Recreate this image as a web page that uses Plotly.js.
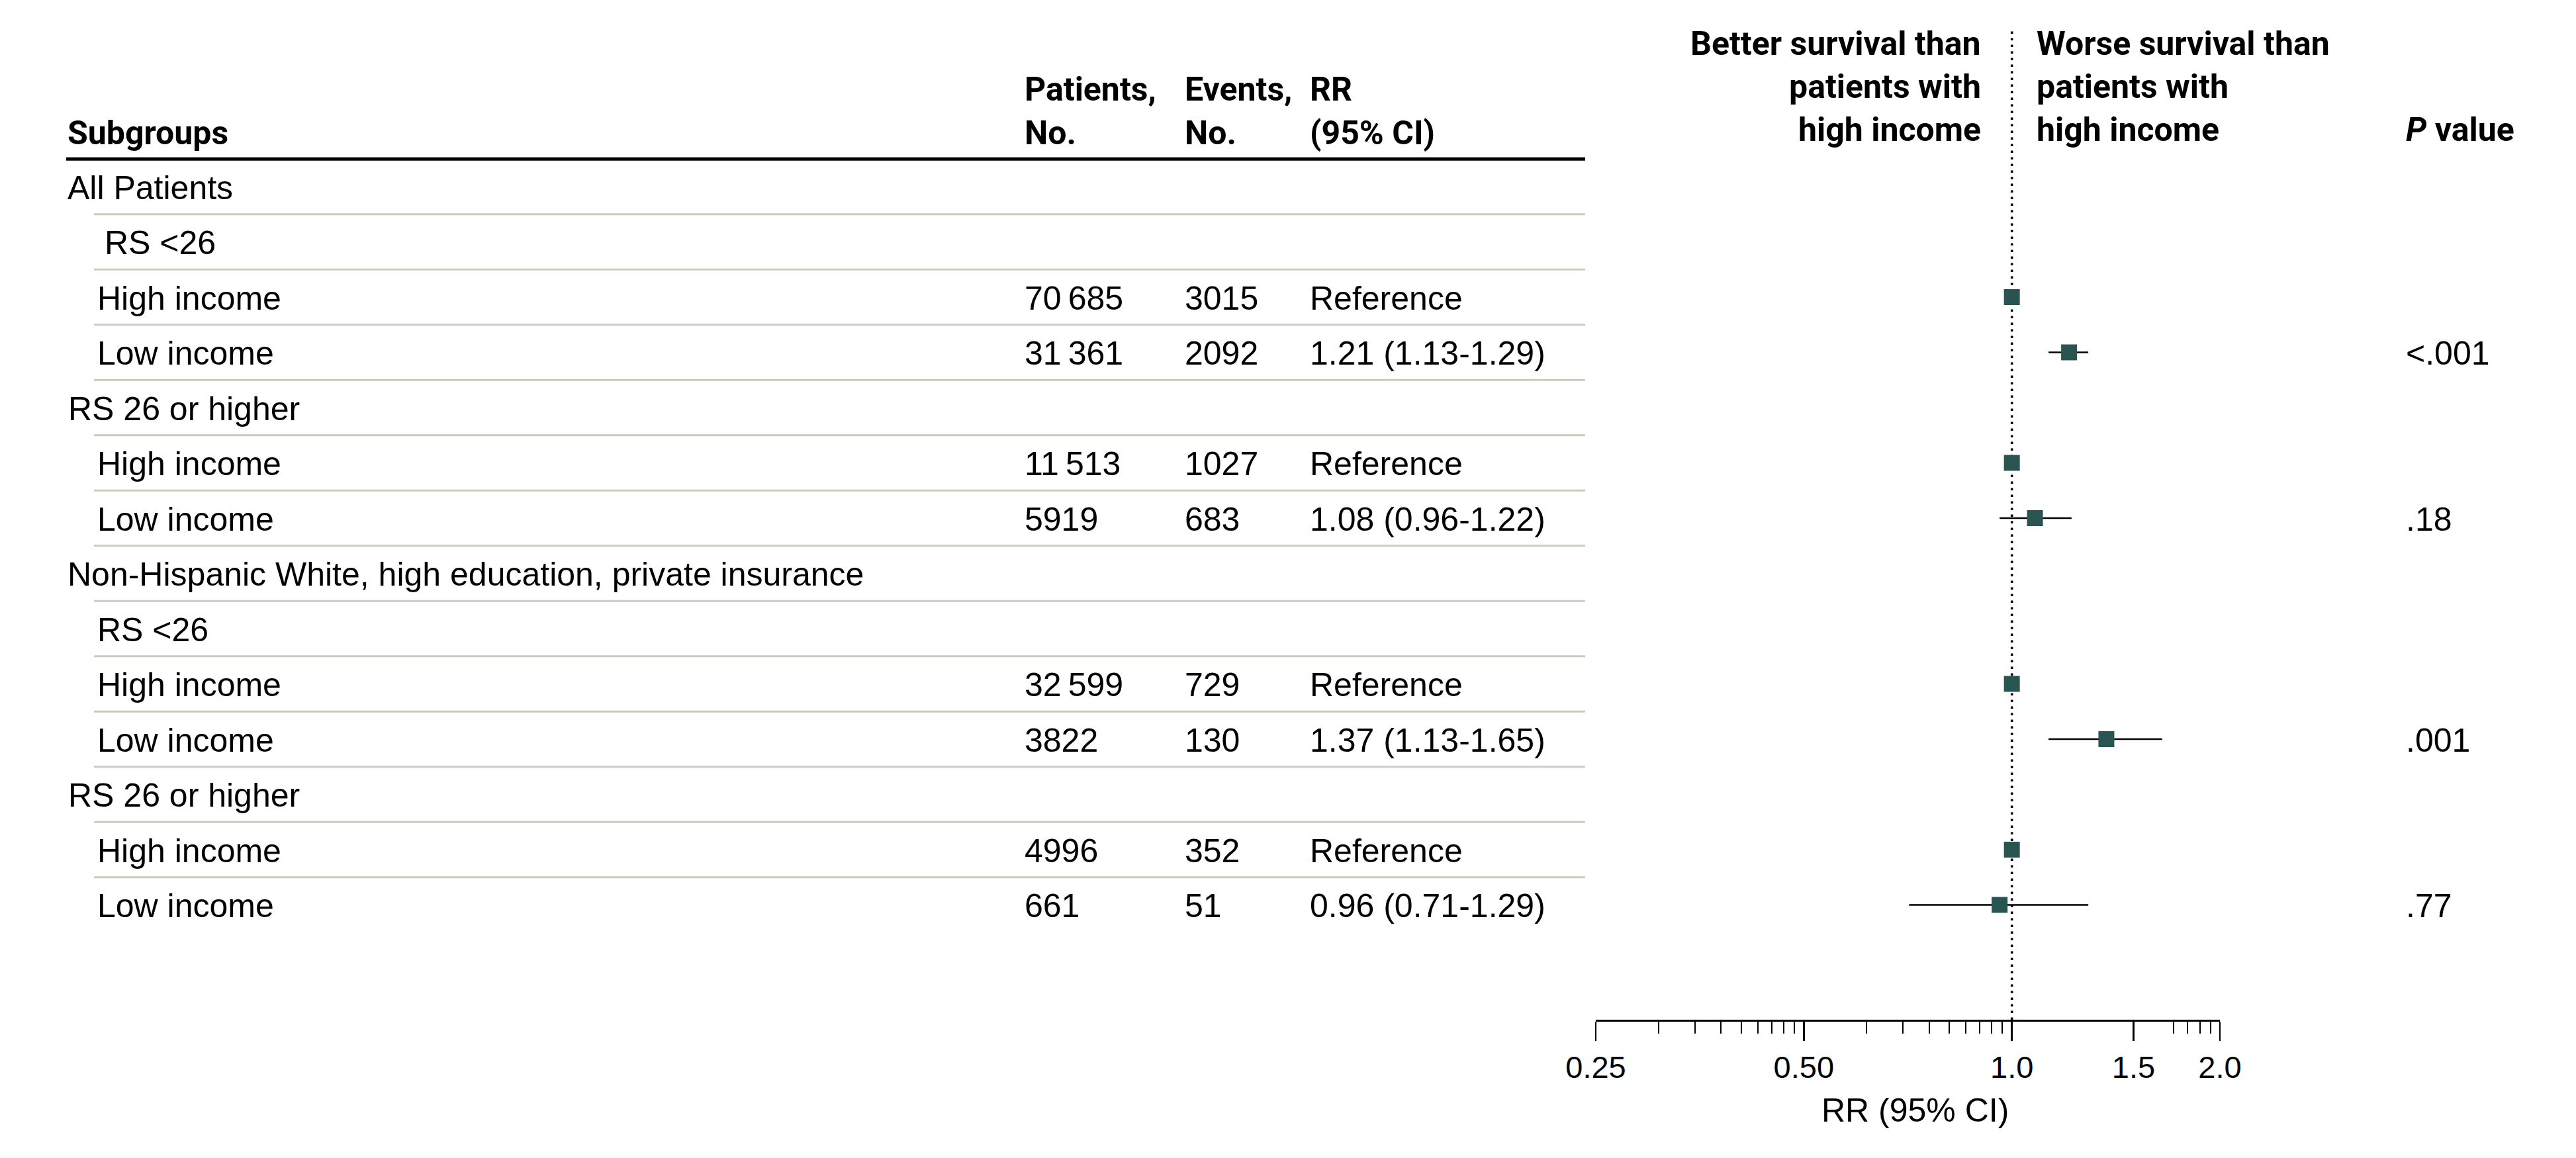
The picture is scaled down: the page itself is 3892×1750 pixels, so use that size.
<!DOCTYPE html>
<html>
<head>
<meta charset="utf-8">
<script src="https://cdn.plot.ly/plotly-3.0.1.min.js"></script>
<style>html,body{margin:0;padding:0;background:#fff}</style>
</head>
<body>
<div id="chart" style="width:3892px;height:1750px"></div>
<script>
// ---------------- DATA ----------------
const subgroups = [
  'All Patients', 'RS <26', 'High income', 'Low income',
  'RS 26 or higher', 'High income', 'Low income',
  'Non-Hispanic White, high education, private insurance',
  'RS <26', 'High income', 'Low income',
  'RS 26 or higher', 'High income', 'Low income'
];
const patients = [null, null, 70685, 31361, null, 11513, 5919, null, null, 32599, 3822, null, 4996, 661];
const events   = [null, null, 3015, 2092, null, 1027, 683, null, null, 729, 130, null, 352, 51];
const rrEst    = [null, null, 1, 1.21, null, 1, 1.08, null, null, 1, 1.37, null, 1, 0.96];
const rrLow    = [null, null, null, 1.13, null, null, 0.96, null, null, null, 1.13, null, null, 0.71];
const rrHigh   = [null, null, null, 1.29, null, null, 1.22, null, null, null, 1.65, null, null, 1.29];
const pValues  = [null, null, null, '<.001', null, null, '.18', null, null, null, '.001', null, null, '.77'];
const axisTickVals = [0.25, 0.5, 1, 1.5, 2];
const axisTickText = ['0.25', '0.50', '1.0', '1.5', '2.0'];

// ---------------- LAYOUT CONSTANTS ----------------
const W = 3892, H = 1750;
const px = x => x / W;
const py = y => 1 - y / H;
const ROW0 = 282, ROWH = 83.5, AXIS_Y = 1541;
const labelIndent = [100, 156, 145, 145, 101, 145, 145, 100, 145, 145, 145, 101, 145, 145];
const COL_PAT = 1546, COL_EVT = 1788, COL_RR = 1977, COL_P = 3633;
const BODY = '"Liberation Sans", Arial, sans-serif';
const HEAD = 'Roboto, "Liberation Sans", Arial, sans-serif';
const BS = 50, HS = 50;
const esc = s => String(s).replace(/&/g, '&amp;').replace(/</g, '&lt;').replace(/>/g, '&gt;');
const fmtN = n => { const s = String(n); return s.length >= 5 ? s.slice(0, -3) + '\u2009' + s.slice(-3) : s; };

const annotations = [];
function bodyAnn(text, x, row, anchor) {
  annotations.push({text: esc(text), xref: 'paper', yref: 'y', x: px(x), y: row + 0.02,
    xanchor: anchor || 'left', yanchor: 'middle', showarrow: false,
    font: {family: BODY, size: BS, color: '#000'}});
}
function headAnn(text, x, baseline, anchor, opts) {
  const size = (opts && opts.size) || HS;
  annotations.push({text: text, xref: 'paper', yref: 'paper', x: px(x), y: py(baseline - 0.345 * size),
    xanchor: anchor || 'left', yanchor: 'middle', showarrow: false,
    font: Object.assign({family: HEAD, size: size, color: '#000', weight: 700}, (opts && opts.font) || {})});
}

// table body
subgroups.forEach((s, i) => {
  bodyAnn(s, labelIndent[i], i);
  if (patients[i] != null) bodyAnn(fmtN(patients[i]), COL_PAT, i);
  if (events[i] != null) bodyAnn(fmtN(events[i]), COL_EVT, i);
  if (rrEst[i] != null) {
    const t = rrLow[i] == null ? 'Reference'
      : rrEst[i].toFixed(2) + ' (' + rrLow[i].toFixed(2) + '-' + rrHigh[i].toFixed(2) + ')';
    bodyAnn(t, COL_RR, i);
  }
  if (pValues[i] != null) bodyAnn(pValues[i], COL_P, i);
});

// headers
headAnn('Subgroups', 100, 218);
headAnn('Patients,', COL_PAT, 152); headAnn('No.', COL_PAT, 218);
headAnn('Events,', COL_EVT, 152);   headAnn('No.', COL_EVT, 218);
headAnn('RR', COL_RR, 152);         headAnn('(95% CI)', COL_RR, 218);
['Better survival than', 'patients with', 'high income'].forEach((t, k) => headAnn(t, 2995, 83 + 65 * k, 'right'));
['Worse survival than', 'patients with', 'high income'].forEach((t, k) => headAnn(t, 3075, 83 + 65 * k, 'left'));
headAnn('<i>P</i> value', COL_P, 213);
// axis title
annotations.push({text: 'RR (95% CI)', xref: 'paper', yref: 'paper', x: px(2893), y: py(1695 - 0.345 * BS),
  xanchor: 'center', yanchor: 'middle', showarrow: false, font: {family: BODY, size: BS, color: '#000'}});

// shapes
const shapes = [];
shapes.push({type: 'line', xref: 'paper', yref: 'y', x0: px(100), x1: px(2395), y0: -0.5, y1: -0.5,
  line: {color: '#000', width: 5}});
for (let r = 0; r < subgroups.length - 1; r++) {
  shapes.push({type: 'line', xref: 'paper', yref: 'y', x0: px(142), x1: px(2395), y0: r + 0.5, y1: r + 0.5,
    line: {color: '#c9ccbe', width: 3}});
}
shapes.push({type: 'line', xref: 'x', yref: 'paper', x0: 1, x1: 1, y0: py(AXIS_Y), y1: py(47),
  line: {color: '#000', width: 3.5, dash: '3.5px,6.5px'}, layer: 'below'});

// traces
const xs = [], ys = [], ep = [], em = [];
rrEst.forEach((v, i) => {
  if (v == null) return;
  xs.push(v); ys.push(i);
  ep.push(rrHigh[i] == null ? null : rrHigh[i] - v);
  em.push(rrLow[i] == null ? null : v - rrLow[i]);
});
const trace = {
  type: 'scatter', mode: 'markers', x: xs, y: ys, cliponaxis: false,
  marker: {symbol: 'square', size: 24, color: '#2a5451', line: {width: 0}},
  error_x: {type: 'data', symmetric: false, array: ep, arrayminus: em, color: '#000', thickness: 2.5, width: 0},
  hoverinfo: 'skip', showlegend: false
};

// minor ticks: decade-style minor ticks within each octave
const minorVals = [];
[0.25, 0.5].forEach(b => { for (let k = 2; k <= 9; k++) minorVals.push(b * Math.pow(2, Math.log10(k))); });
for (let k = 6; k <= 9; k++) minorVals.push(Math.pow(2, Math.log10(k)));

const yTop = (0 - ROW0) / ROWH, yBot = (AXIS_Y - ROW0) / ROWH;

const layout = {
  width: W, height: H, margin: {l: 0, r: 0, t: 0, b: 0, pad: 0},
  paper_bgcolor: '#fff', plot_bgcolor: 'rgba(0,0,0,0)', showlegend: false,
  xaxis: {
    type: 'log', range: [Math.log10(0.25), Math.log10(2)], domain: [px(2411), px(3354)],
    tickmode: 'array', tickvals: axisTickVals, ticktext: axisTickText,
    ticks: 'outside', ticklen: 29, tickwidth: 2.5, tickcolor: '#000',
    showline: true, linecolor: '#000', linewidth: 3, showgrid: false, zeroline: false,
    tickfont: {family: BODY, size: 47, color: '#000'},
    minor: {tickmode: 'array', tickvals: minorVals, ticks: 'outside', ticklen: 18, tickwidth: 2, tickcolor: '#000', showgrid: false},
    fixedrange: true
  },
  yaxis: {visible: false, range: [yBot, yTop], domain: [1 - AXIS_Y / H, 1], fixedrange: true,
    showgrid: false, zeroline: false},
  annotations: annotations, shapes: shapes
};
Plotly.newPlot('chart', [trace], layout, {staticPlot: true, displayModeBar: false});
</script>
</body>
</html>
